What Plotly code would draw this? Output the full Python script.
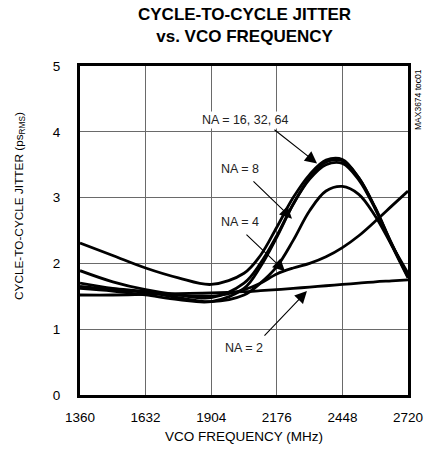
import plotly.graph_objects as go

# VCO frequency (MHz)
freq = [1360, 1496, 1632, 1768, 1904, 2040, 2108, 2176, 2244, 2312, 2380, 2448, 2516, 2584, 2652, 2720]

# cycle-to-cycle jitter (ps RMS) per NA setting
na64 = [2.31, 2.12, 1.93, 1.78, 1.68, 1.85, 2.12, 2.55, 3.00, 3.35, 3.57, 3.58, 3.30, 2.85, 2.30, 1.80]
na32 = [1.89, 1.72, 1.60, 1.52, 1.48, 1.70, 2.00, 2.42, 2.90, 3.28, 3.50, 3.52, 3.27, 2.83, 2.28, 1.78]
na16 = [1.62, 1.58, 1.52, 1.45, 1.42, 1.62, 1.95, 2.40, 2.90, 3.30, 3.54, 3.56, 3.30, 2.84, 2.30, 1.80]
na8 = [1.70, 1.62, 1.57, 1.48, 1.42, 1.52, 1.70, 1.95, 2.35, 2.80, 3.10, 3.17, 3.05, 2.72, 2.28, 1.85]
na4 = [1.65, 1.60, 1.56, 1.52, 1.50, 1.60, 1.70, 1.84, 1.93, 2.00, 2.10, 2.24, 2.42, 2.64, 2.87, 3.10]
na2 = [1.52, 1.52, 1.53, 1.54, 1.55, 1.57, 1.585, 1.60, 1.62, 1.64, 1.66, 1.68, 1.70, 1.72, 1.735, 1.75]

x_ticks = [1360, 1632, 1904, 2176, 2448, 2720]
y_ticks = [0, 1, 2, 3, 4, 5]

FONT = "Liberation Sans, Arial, Helvetica, sans-serif"

fig = go.Figure()
for name, ys in [("NA = 2", na2), ("NA = 4", na4), ("NA = 8", na8),
                 ("NA = 16", na16), ("NA = 32", na32), ("NA = 64", na64)]:
    fig.add_trace(go.Scatter(x=freq, y=ys, mode="lines", name=name,
                             line=dict(color="black", width=2.8, shape="spline", smoothing=1.0),
                             showlegend=False))

W, H = 426, 456
L, T = 80, 66
R = W - 408
B = H - 395
pw, ph = W - L - R, H - T - B

def px_x(px):
    return (px - L) / pw

def px_y(py):
    return (H - B - py) / ph

annotations = []
# title
annotations.append(dict(text="<b>CYCLE-TO-CYCLE JITTER<br>vs. VCO FREQUENCY</b>", xref="paper", yref="paper",
                        x=px_x(244), y=px_y(26), showarrow=False, align="center",
                        font=dict(family=FONT, size=17, color="black"), xanchor="center", yanchor="middle"))
# axis titles
annotations.append(dict(text="VCO FREQUENCY (MHz)", xref="paper", yref="paper",
                        x=px_x(244), y=px_y(436), showarrow=False,
                        font=dict(family=FONT, size=13.5, color="black"), xanchor="center", yanchor="middle"))
annotations.append(dict(text="CYCLE-TO-CYCLE JITTER (ps<sub>RMS</sub>)", xref="paper", yref="paper",
                        x=px_x(20), y=px_y(206), showarrow=False, textangle=-90,
                        font=dict(family=FONT, size=11.8, color="black"), xanchor="center", yanchor="middle"))
annotations.append(dict(text="MAX3674 toc01", xref="paper", yref="paper",
                        x=px_x(418), y=px_y(100), showarrow=False, textangle=-90,
                        font=dict(family=FONT, size=8.5, color="black"), xanchor="center", yanchor="middle"))

# curve labels
labels = [("NA = 16, 32, 64", 1904 + (245 - 211.2) * 272 / 65.6, 4.18),
          ("NA = 8", 1904 + (240 - 211.2) * 272 / 65.6, 3.43),
          ("NA = 4", 1904 + (240 - 211.2) * 272 / 65.6, 2.63),
          ("NA = 2", 1904 + (244 - 211.2) * 272 / 65.6, 0.71)]
for txt, lx, ly in labels:
    annotations.append(dict(text=txt, x=lx, y=ly, xref="x", yref="y", showarrow=False,
                            font=dict(family=FONT, size=12.5, color="#222"), bgcolor="white",
                            borderpad=1, xanchor="center", yanchor="middle"))

# arrows (tail -> tip) in data coordinates
arrows = [((2160, 4.05), (2343, 3.52)),
          ((2073, 3.27), (2239, 2.68)),
          ((2044, 2.46), (2210, 1.88)),
          ((2119, 0.88), (2301, 1.58))]
for (tx, ty), (hx, hy) in arrows:
    annotations.append(dict(text="", x=hx, y=hy, ax=tx, ay=ty, xref="x", yref="y",
                            axref="x", ayref="y", showarrow=True, arrowhead=2,
                            arrowsize=2.2, arrowwidth=1.1, arrowcolor="black"))

fig.update_layout(
    width=W, height=H,
    margin=dict(l=L, r=R, t=T, b=B, autoexpand=False),
    paper_bgcolor="white", plot_bgcolor="white",
    annotations=annotations,
    font=dict(family=FONT, color="black"),
)
fig.update_xaxes(range=[1360, 2720], tickvals=x_ticks, ticktext=[str(v) for v in x_ticks],
                 showgrid=True, gridcolor="#6a6a6a", gridwidth=1.2,
                 showline=True, linecolor="black", linewidth=3, mirror=True,
                 ticks="outside", ticklen=8, tickcolor="rgba(0,0,0,0)",
                 tickfont=dict(family=FONT, size=13.5, color="black"), zeroline=False)
fig.update_yaxes(range=[0, 5], tickvals=y_ticks, ticktext=[str(v) for v in y_ticks],
                 showgrid=True, gridcolor="#6a6a6a", gridwidth=1.2,
                 showline=True, linecolor="black", linewidth=3, mirror=True,
                 ticks="outside", ticklen=14, tickcolor="rgba(0,0,0,0)",
                 tickfont=dict(family=FONT, size=13.5, color="black"), zeroline=False)

fig.write_html("out.html", config={"displayModeBar": False},
               post_script="document.body.style.margin='0';document.body.style.overflow='hidden';")
